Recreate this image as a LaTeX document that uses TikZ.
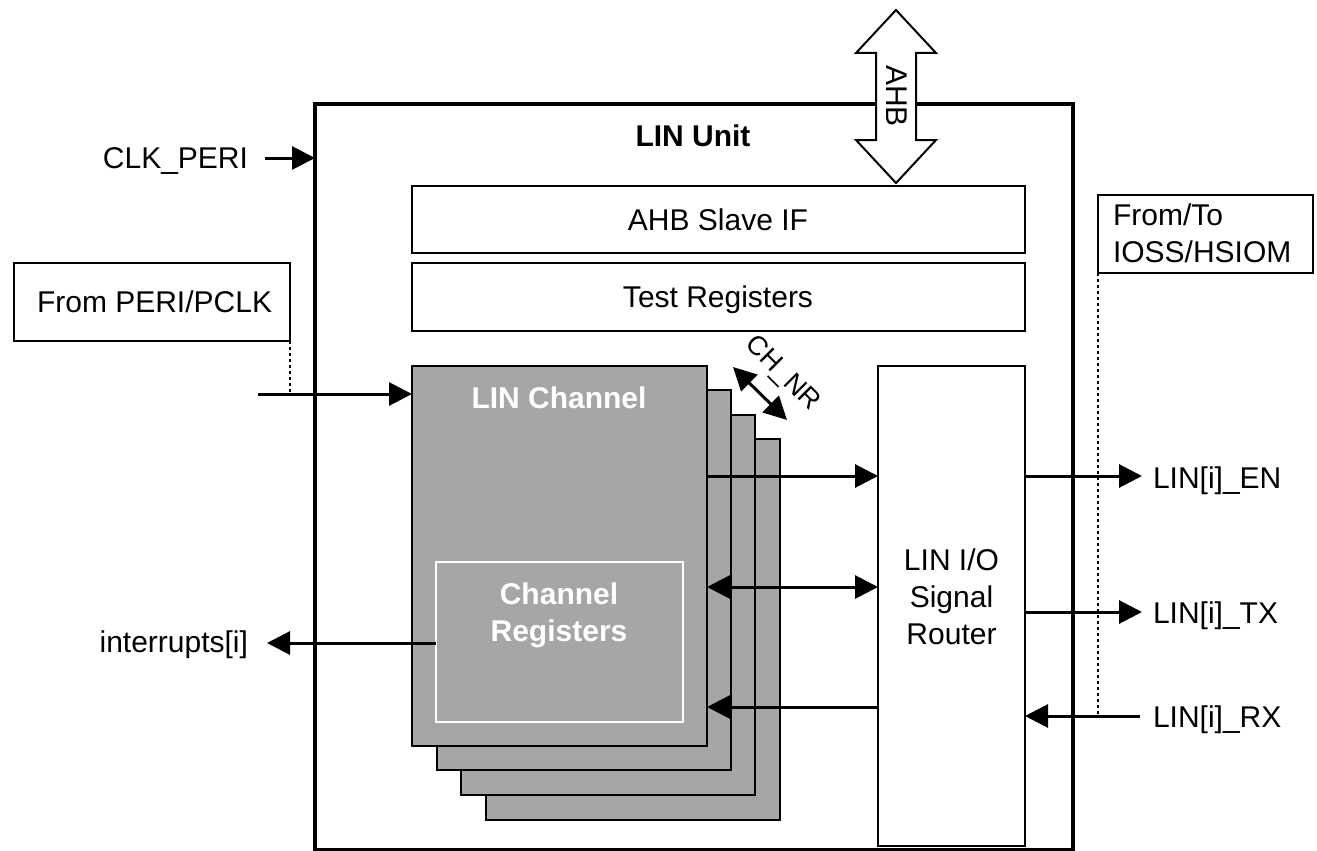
\documentclass[tikz,border=0pt]{standalone}
\usepackage{fontspec}
\setmainfont{Liberation Sans}
\usetikzlibrary{arrows.meta}
\definecolor{chgray}{HTML}{A6A6A6}
\tikzset{
 txt/.style={inner sep=0pt, outer sep=0pt, font=\fontsize{30}{37}\selectfont},
 btxt/.style={inner sep=0pt, outer sep=0pt, font=\fontsize{30}{37}\selectfont\bfseries},
 box/.style={draw=black, line width=2pt, inner sep=0pt, outer sep=0pt, anchor=north west},
 chbox/.style={box, fill=chgray},
 arr/.style={line width=3pt, -{Triangle[length=23pt,width=23pt]}},
 darr/.style={line width=3pt, {Triangle[length=23pt,width=23pt]}-{Triangle[length=23pt,width=23pt]}},
 dots/.style={line width=2pt, dash pattern=on 3pt off 3pt},
}
\begin{document}
\begin{tikzpicture}[x=1pt,y=-1pt]
\useasboundingbox (0,0) rectangle (1317,851);
% outer unit
\node[box, line width=3.5pt, minimum width=758pt, minimum height=746pt] (unit) at (315,104) {};
% AHB block arrow
\draw[line width=2pt, fill=white, line join=miter] (896,10) -- (936,53) -- (916,53) -- (916,140) -- (936,140) -- (896,183) -- (856,140) -- (876,140) -- (876,53) -- (856,53) -- cycle;
\node[txt, rotate=-90, text height=21.5pt, text depth=0pt] (ahbtxt) at (897,96) {AHB};
% top boxes
\node[box, minimum width=613pt, minimum height=67pt] (ahbif) at (412,186) {};
\node[box, minimum width=613pt, minimum height=68pt] (testreg) at (412,263) {};
\node[txt, anchor=base] (ahbiftxt) at (718,230) {AHB Slave IF};
\node[txt, anchor=base] (testregtxt) at (718,307) {Test Registers};
% channel stack
\node[chbox, minimum width=294pt, minimum height=381pt] (ch4) at (486,439) {};
\node[chbox, minimum width=294pt, minimum height=380pt] (ch3) at (461,415) {};
\node[chbox, minimum width=294pt, minimum height=380pt] (ch2) at (437,390) {};
\node[chbox, minimum width=295pt, minimum height=380pt] (ch1) at (412,366) {};
\node[box, draw=white, line width=1.5pt, minimum width=247pt, minimum height=160pt] (chreg) at (436,562) {};
\node[btxt, anchor=base, text=white] (chtxt) at (559,408) {LIN Channel};
\node[btxt, anchor=base, text=white] (chregtxt1) at (559,604) {Channel};
\node[btxt, anchor=base, text=white] (chregtxt2) at (559,641) {Registers};
% router
\node[box, fill=white, minimum width=147pt, minimum height=480pt] (router) at (878,366) {};
\node[txt, anchor=base] (rt1) at (951.5,570) {LIN I/O};
\node[txt, anchor=base] (rt2) at (951.5,607) {Signal};
\node[txt, anchor=base] (rt3) at (951.5,644) {Router};
% title
\node[btxt, anchor=base] (unittxt) at (693,146) {LIN Unit};
% CH_NR
\coordinate (chnrA) at (733,367);
\coordinate (chnrB) at (787,420);
\draw[darr] (chnrA) -- (chnrB);
\node[inner sep=0pt, outer sep=0pt, font=\fontsize{27}{32}\selectfont, rotate=-45, text height=19pt, text depth=0pt] (chnr) at (784,372) {CH\_NR};
% side boxes
\node[box, minimum width=276pt, minimum height=78pt] (peri) at (14,263) {};
\node[txt, anchor=base west] (peritxt) at (37,312) {From PERI/PCLK};
\node[box, minimum width=215pt, minimum height=78pt] (ioss) at (1098,195) {};
\node[txt, anchor=base west] (iosstxt1) at (1113,225) {From/To};
\node[txt, anchor=base west] (iosstxt2) at (1113,262) {IOSS/HSIOM};
% level coordinates
\coordinate (yEN) at (0,476);
\coordinate (yBI) at (0,587);
\coordinate (yRXc) at (0,707);
% CLK_PERI
\node[txt, anchor=base east] (clk) at (248,168) {CLK\_PERI};
\coordinate (clkstart) at (265,158);
\draw[arr] (clkstart) -- (clkstart -| unit.west);
% PCLK
\coordinate (pclkin) at (258,394);
\draw[arr] (pclkin) -- (pclkin -| ch1.west);
\draw[dots] (peri.south east) -- (peri.south east |- pclkin);
% channel <-> router
\draw[arr] (ch1.east |- yEN) -- (router.west |- yEN);
\draw[darr] (ch1.east |- yBI) -- (router.west |- yBI);
\draw[arr] (router.west |- yRXc) -- (ch1.east |- yRXc);
% router outputs
\node[txt, anchor=base west] (en) at (1153,488) {LIN[i]\_EN};
\node[txt, anchor=base west] (tx) at (1153,623) {LIN[i]\_TX};
\node[txt, anchor=base west] (rx) at (1153,727) {LIN[i]\_RX};
\coordinate (enEnd) at (1142,476);
\coordinate (txEnd) at (1142,612);
\coordinate (rxStart) at (1140,716);
\draw[arr] (router.east |- enEnd) -- (enEnd);
\draw[arr] (router.east |- txEnd) -- (txEnd);
\draw[dots] (ioss.south west) -- (ioss.south west |- rxStart);
\draw[arr] (rxStart) -- (rxStart -| router.east);
% interrupts
\node[txt, anchor=base east] (intr) at (248,652) {interrupts[i]};
\coordinate (intrEnd) at (267,643);
\draw[arr] (chreg.west |- intrEnd) -- (intrEnd);
\end{tikzpicture}
\end{document}
